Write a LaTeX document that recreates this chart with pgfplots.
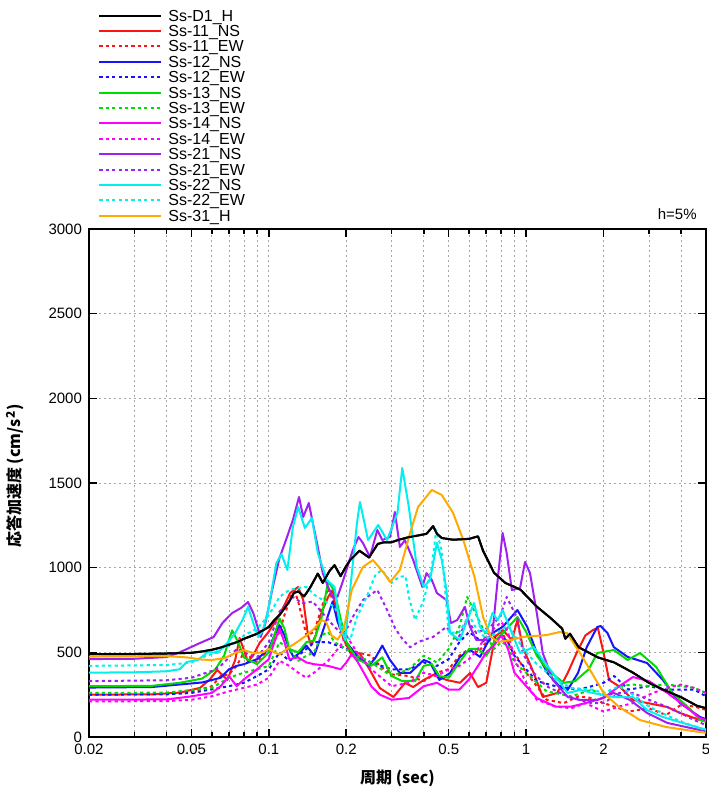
\documentclass[border=0pt]{standalone}
\usepackage{fontspec}
\setmainfont{Liberation Sans}
\newfontfamily\cjk{Noto Sans CJK JP}
\usepackage{pgfplots}
\pgfplotsset{compat=1.18}
\definecolor{cred}{RGB}{255,20,20}
\definecolor{cblue}{RGB}{20,20,255}
\definecolor{cgreen}{RGB}{0,220,0}
\definecolor{cmag}{RGB}{255,0,255}
\definecolor{cpur}{RGB}{160,32,240}
\definecolor{ccyan}{RGB}{0,240,240}
\definecolor{corange}{RGB}{255,170,0}
\begin{document}
\begin{tikzpicture}
\begin{axis}[name=ax,
  scale only axis, width=308.5pt, height=254pt,
  xmode=log, xmin=0.02, xmax=5, ymin=0, ymax=3000,
  xtick={0.02,0.05,0.1,0.2,0.5,1,2,5},
  xticklabels={0.02,0.05,0.1,0.2,0.5,1,2,5},
  minor xtick={0.03,0.04,0.06,0.07,0.08,0.09,0.3,0.4,0.6,0.7,0.8,0.9,3,4},
  ytick={0,500,1000,1500,2000,2500,3000},
  yticklabels={0,500,1000,1500,2000,2500,3000},
  /pgf/number format/assume math mode=true,
  ticklabel style={font=\fontsize{7.5}{8}\selectfont},
  major tick length=4pt, minor tick length=2.5pt,
  every tick/.style={black, line width=0.8pt},
  grid=both,
  major grid style={dash pattern=on 1pt off 1.5pt, gray!70, line width=0.4pt},
  minor grid style={dash pattern=on 1pt off 1.5pt, gray!70, line width=0.4pt},
  axis line style={line width=1pt},
  xlabel={\cjk\bfseries 周期 (sec)},
  xlabel style={at={(axis description cs:0.5,0)}, anchor=center, yshift=-20.5pt, font=\fontsize{8}{9}\selectfont},
  legend style={at={(axis description cs:0,1)}, anchor=south west, xshift=4.5pt, yshift=1.7pt,
     draw=none, fill=none, inner sep=0pt, row sep=0pt,
     font=\fontsize{8}{8}\selectfont,
     nodes={text height=5.8pt, text depth=1.9pt, inner ysep=0pt, inner xsep=3pt}},
  legend cell align=left,
  legend image code/.code={\draw[#1] (0pt,0.8pt) -- (31pt,0.8pt);},
  every axis plot/.append style={line width=1pt, line join=round},
  after end axis/.code={
    \node[anchor=south east, inner sep=0pt, font=\fontsize{7.5}{8}\selectfont] at ([xshift=-4.5pt, yshift=4.5pt]rel axis cs:1,1) {h=5\%};
    \node[anchor=center, inner sep=0pt, font=\fontsize{8}{9}\selectfont, rotate=90] at ([xshift=-37pt, yshift=3.5pt]rel axis cs:0,0.5) {\cjk\bfseries 応答加速度 (cm/s\textsuperscript{2})};
  },
]
% Ss-D1_H
\addplot[black] coordinates {(0.02,490)(0.03,490)(0.04,493)(0.05,497)(0.055,505)(0.06,515)(0.065,528)(0.07,545)(0.075,560)(0.08,580)(0.085,595)(0.09,610)(0.1,650)(0.105,690)(0.11,720)(0.115,760)(0.12,800)(0.125,850)(0.13,860)(0.137,830)(0.14,850)(0.145,885)(0.155,965)(0.162,910)(0.172,980)(0.18,1015)(0.19,950)(0.2,1010)(0.207,1045)(0.225,1100)(0.245,1060)(0.265,1140)(0.28,1150)(0.3,1150)(0.32,1165)(0.35,1180)(0.38,1190)(0.41,1200)(0.435,1245)(0.45,1200)(0.47,1175)(0.52,1165)(0.6,1170)(0.65,1185)(0.68,1100)(0.75,970)(0.83,910)(0.95,870)(1.1,770)(1.25,700)(1.38,640)(1.42,580)(1.48,610)(1.6,530)(1.9,470)(2.2,440)(2.6,380)(3.0,320)(3.4,280)(4.0,235)(4.6,185)(5,170)};
\addlegendentry{Ss-D1\_H}
% Ss-11_NS
\addplot[cred] coordinates {(0.02,250)(0.035,252)(0.045,262)(0.054,290)(0.059,340)(0.063,396)(0.069,337)(0.074,455)(0.077,585)(0.08,514)(0.083,443)(0.087,484)(0.092,555)(0.099,614)(0.107,691)(0.114,768)(0.121,850)(0.13,886)(0.136,809)(0.142,600)(0.146,540)(0.152,600)(0.16,732)(0.17,827)(0.177,868)(0.185,700)(0.195,580)(0.21,480)(0.225,496)(0.247,396)(0.27,289)(0.305,236)(0.338,319)(0.364,295)(0.40,337)(0.435,366)(0.49,337)(0.553,320)(0.605,378)(0.65,295)(0.70,320)(0.757,591)(0.81,632)(0.88,573)(0.925,691)(0.97,531)(1.07,378)(1.16,236)(1.32,260)(1.45,378)(1.59,514)(1.7,600)(1.82,632)(1.9,644)(2.0,496)(2.1,337)(2.32,295)(2.6,219)(2.95,201)(3.54,177)(3.96,142)(4.74,100)(5,95)};
\addlegendentry{Ss-11\_NS}
% Ss-11_EW
\addplot[cred, dash pattern=on 1.6pt off 1.6pt] coordinates {(0.02,250)(0.04,255)(0.05,265)(0.06,300)(0.065,360)(0.07,370)(0.075,420)(0.08,500)(0.085,470)(0.09,440)(0.1,520)(0.11,620)(0.115,720)(0.12,800)(0.125,880)(0.13,800)(0.135,700)(0.14,600)(0.15,620)(0.16,760)(0.17,880)(0.18,780)(0.19,620)(0.2,540)(0.22,500)(0.25,480)(0.27,420)(0.3,370)(0.35,360)(0.4,330)(0.45,380)(0.5,400)(0.55,480)(0.6,520)(0.65,500)(0.7,560)(0.8,620)(0.9,500)(1.0,380)(1.1,300)(1.2,220)(1.4,200)(1.6,240)(1.8,230)(2.0,200)(2.2,180)(2.5,150)(3,170)(3.5,130)(4,190)(4.5,180)(5,160)};
\addlegendentry{Ss-11\_EW}
% Ss-12_NS
\addplot[cblue] coordinates {(0.02,292)(0.035,295)(0.045,310)(0.055,322)(0.065,350)(0.07,400)(0.075,420)(0.08,430)(0.09,460)(0.1,520)(0.105,600)(0.11,660)(0.115,600)(0.12,520)(0.125,470)(0.13,490)(0.14,540)(0.15,480)(0.16,600)(0.17,720)(0.177,800)(0.185,680)(0.2,560)(0.22,480)(0.245,420)(0.26,470)(0.276,540)(0.2955,455)(0.323,378)(0.354,378)(0.40,455)(0.423,440)(0.46,337)(0.506,378)(0.553,473)(0.605,514)(0.662,473)(0.74,614)(0.81,650)(0.925,750)(1.01,650)(1.1,496)(1.21,378)(1.354,295)(1.45,278)(1.59,378)(1.72,531)(1.89,650)(1.95,655)(2.07,614)(2.19,531)(2.48,473)(2.95,437)(3.4,337)(3.96,201)(4.74,118)(5,105)};
\addlegendentry{Ss-12\_NS}
% Ss-12_EW
\addplot[cblue, dash pattern=on 1.6pt off 1.6pt] coordinates {(0.02,250)(0.04,252)(0.05,260)(0.07,300)(0.08,320)(0.09,360)(0.1,400)(0.11,500)(0.12,450)(0.13,480)(0.14,520)(0.15,560)(0.17,560)(0.2,520)(0.22,480)(0.25,440)(0.3,400)(0.35,400)(0.4,440)(0.45,420)(0.5,460)(0.55,560)(0.6,620)(0.65,580)(0.7,560)(0.8,600)(0.85,560)(0.9,480)(1.0,400)(1.1,330)(1.3,300)(1.6,280)(1.8,300)(2.0,320)(2.2,360)(2.5,280)(3,300)(3.5,280)(4.0,280)(4.5,280)(5,240)};
\addlegendentry{Ss-12\_EW}
% Ss-13_NS
\addplot[cgreen] coordinates {(0.02,300)(0.035,302)(0.045,320)(0.055,345)(0.062,400)(0.067,480)(0.072,630)(0.076,560)(0.08,470)(0.09,430)(0.1,500)(0.105,600)(0.11,700)(0.115,640)(0.12,520)(0.13,500)(0.14,560)(0.15,570)(0.16,700)(0.17,920)(0.18,860)(0.19,700)(0.2,560)(0.22,460)(0.25,420)(0.276,470)(0.3,360)(0.33,330)(0.37,330)(0.4,420)(0.43,430)(0.46,360)(0.5,350)(0.55,440)(0.6,520)(0.65,520)(0.7,480)(0.75,560)(0.82,620)(0.925,709)(1.0,620)(1.1,480)(1.21,396)(1.4,320)(1.55,330)(1.75,400)(1.89,496)(2.19,514)(2.48,455)(2.77,496)(3.2,414)(3.7,260)(4.3,170)(4.74,100)(5,90)};
\addlegendentry{Ss-13\_NS}
% Ss-13_EW
\addplot[cgreen, dash pattern=on 1.6pt off 1.6pt] coordinates {(0.02,260)(0.04,262)(0.06,290)(0.07,350)(0.08,380)(0.09,400)(0.1,420)(0.11,560)(0.12,520)(0.13,450)(0.14,480)(0.15,500)(0.16,600)(0.17,620)(0.18,560)(0.2,520)(0.22,480)(0.25,440)(0.3,360)(0.35,400)(0.4,480)(0.45,440)(0.5,520)(0.55,650)(0.59,827)(0.65,700)(0.7,600)(0.75,520)(0.8,560)(0.85,540)(0.9,440)(1.0,380)(1.2,270)(1.5,240)(1.8,280)(2.0,240)(2.3,300)(2.6,310)(3,300)(3.5,310)(4,300)(4.5,290)(5,260)};
\addlegendentry{Ss-13\_EW}
% Ss-14_NS
\addplot[cmag] coordinates {(0.02,220)(0.04,222)(0.05,240)(0.06,260)(0.065,300)(0.07,360)(0.075,300)(0.08,340)(0.09,400)(0.1,460)(0.105,560)(0.11,640)(0.115,560)(0.12,460)(0.13,470)(0.14,440)(0.15,430)(0.17,420)(0.19,400)(0.2,440)(0.21,490)(0.22,450)(0.23,400)(0.25,300)(0.27,250)(0.3,220)(0.35,230)(0.4,300)(0.45,320)(0.5,280)(0.55,280)(0.6,340)(0.65,420)(0.7,500)(0.75,540)(0.8,600)(0.85,520)(0.9,380)(1.0,300)(1.1,230)(1.3,180)(1.5,180)(1.7,200)(2.0,230)(2.3,300)(2.6,354)(3,330)(3.54,260)(4,200)(4.74,112)(5,100)};
\addlegendentry{Ss-14\_NS}
% Ss-14_EW
\addplot[cmag, dash pattern=on 1.6pt off 1.6pt] coordinates {(0.02,210)(0.04,212)(0.05,220)(0.06,240)(0.07,270)(0.08,290)(0.09,310)(0.1,350)(0.11,450)(0.12,420)(0.13,380)(0.14,350)(0.15,380)(0.17,450)(0.19,540)(0.2,600)(0.22,500)(0.25,400)(0.3,300)(0.35,320)(0.4,380)(0.45,360)(0.5,400)(0.55,420)(0.6,460)(0.65,520)(0.7,600)(0.75,640)(0.8,680)(0.85,620)(0.9,460)(1.0,320)(1.1,220)(1.3,180)(1.5,170)(1.7,200)(2.0,150)(2.3,180)(2.6,200)(3,250)(3.5,290)(4,310)(4.5,290)(5,260)};
\addlegendentry{Ss-14\_EW}
% Ss-21_NS
\addplot[cpur] coordinates {(0.02,460)(0.03,462)(0.04,472)(0.045,500)(0.054,555)(0.061,590)(0.066,673)(0.072,732)(0.078,762)(0.083,797)(0.087,732)(0.093,590)(0.097,673)(0.103,868)(0.11,1057)(0.117,1170)(0.124,1282)(0.131,1417)(0.136,1299)(0.143,1382)(0.148,1270)(0.155,1122)(0.162,968)(0.17,886)(0.178,820)(0.185,830)(0.193,910)(0.212,1104)(0.223,1181)(0.232,1146)(0.247,1063)(0.264,1222)(0.276,1163)(0.2955,1181)(0.309,1329)(0.323,1122)(0.338,1163)(0.364,1045)(0.395,886)(0.41,968)(0.43,927)(0.45,850)(0.49,809)(0.51,673)(0.54,691)(0.578,768)(0.605,650)(0.64,573)(0.70,573)(0.74,614)(0.775,927)(0.81,1205)(0.84,1087)(0.88,868)(0.947,880)(0.99,1034)(1.035,968)(1.1,732)(1.16,496)(1.27,337)(1.45,236)(1.62,219)(1.89,219)(2.19,260)(2.53,219)(2.95,142)(3.54,83)(4.74,41)(5,35)};
\addlegendentry{Ss-21\_NS}
% Ss-21_EW
\addplot[cpur, dash pattern=on 1.6pt off 1.6pt] coordinates {(0.02,330)(0.04,335)(0.05,350)(0.06,390)(0.065,420)(0.07,470)(0.075,520)(0.08,500)(0.09,470)(0.1,560)(0.11,740)(0.124,827)(0.135,790)(0.148,800)(0.16,740)(0.18,650)(0.195,600)(0.212,709)(0.232,809)(0.264,868)(0.288,750)(0.31,640)(0.33,580)(0.354,530)(0.38,560)(0.40,573)(0.435,591)(0.49,650)(0.54,573)(0.59,691)(0.64,614)(0.724,650)(0.79,709)(0.84,827)(0.925,700)(0.97,496)(1.07,378)(1.2,300)(1.4,250)(1.6,220)(1.8,200)(2.0,200)(2.3,260)(2.6,260)(3.0,220)(3.5,180)(4.0,140)(4.5,100)(5,70)};
\addlegendentry{Ss-21\_EW}
% Ss-22_NS
\addplot[ccyan] coordinates {(0.02,380)(0.03,382)(0.04,388)(0.045,400)(0.048,443)(0.053,455)(0.058,502)(0.063,496)(0.069,555)(0.074,614)(0.079,691)(0.083,768)(0.087,673)(0.091,590)(0.095,632)(0.1,768)(0.107,1028)(0.112,1080)(0.118,986)(0.124,1240)(0.13,1358)(0.138,1234)(0.147,1293)(0.155,1087)(0.168,927)(0.18,886)(0.189,650)(0.198,573)(0.207,868)(0.22,1264)(0.226,1388)(0.243,1163)(0.266,1252)(0.288,1163)(0.316,1323)(0.33,1589)(0.35,1358)(0.364,1163)(0.376,1004)(0.40,886)(0.423,927)(0.45,1146)(0.47,1045)(0.49,868)(0.506,614)(0.553,573)(0.59,691)(0.627,791)(0.662,650)(0.70,614)(0.74,732)(0.775,690)(0.81,750)(0.88,614)(0.947,496)(1.07,531)(1.16,455)(1.27,378)(1.45,260)(1.62,278)(1.82,260)(2.19,236)(2.6,236)(2.95,159)(3.4,118)(4.74,53)(5,45)};
\addlegendentry{Ss-22\_NS}
% Ss-22_EW
\addplot[ccyan, dash pattern=on 1.6pt off 1.6pt] coordinates {(0.02,420)(0.04,425)(0.05,440)(0.055,470)(0.06,490)(0.065,520)(0.07,540)(0.075,560)(0.08,600)(0.09,640)(0.1,720)(0.11,827)(0.12,868)(0.13,880)(0.14,886)(0.15,840)(0.162,809)(0.18,768)(0.19,690)(0.2,600)(0.207,573)(0.22,709)(0.24,827)(0.26,960)(0.275,986)(0.3,910)(0.32,945)(0.34,950)(0.35,827)(0.37,691)(0.40,809)(0.43,1004)(0.447,1222)(0.47,1100)(0.5,614)(0.55,620)(0.6,720)(0.64,640)(0.7,580)(0.78,620)(0.85,660)(0.9,600)(1.0,500)(1.1,430)(1.3,340)(1.5,290)(1.8,280)(2.0,260)(2.3,300)(2.6,250)(3.0,180)(3.5,130)(4.0,90)(5,40)};
\addlegendentry{Ss-22\_EW}
% Ss-31_H
\addplot[corange] coordinates {(0.02,475)(0.04,478)(0.048,470)(0.055,457)(0.06,455)(0.067,465)(0.075,500)(0.08,512)(0.088,495)(0.095,500)(0.1,520)(0.105,500)(0.11,488)(0.12,530)(0.13,565)(0.14,600)(0.15,640)(0.16,690)(0.167,680)(0.175,600)(0.185,575)(0.195,630)(0.21,868)(0.232,1004)(0.254,1045)(0.28,968)(0.296,915)(0.323,986)(0.354,1205)(0.38,1358)(0.40,1400)(0.43,1459)(0.47,1429)(0.52,1323)(0.57,1163)(0.63,945)(0.68,709)(0.73,591)(0.78,561)(0.87,573)(0.97,591)(1.2,602)(1.35,620)(1.44,614)(1.62,496)(1.8,378)(2.0,260)(2.3,177)(2.77,100)(3.5,59)(4.7,30)(5,25)};
\addlegendentry{Ss-31\_H}
% black again on top
\addplot[black, forget plot] coordinates {(0.02,490)(0.03,490)(0.04,493)(0.05,497)(0.055,505)(0.06,515)(0.065,528)(0.07,545)(0.075,560)(0.08,580)(0.085,595)(0.09,610)(0.1,650)(0.105,690)(0.11,720)(0.115,760)(0.12,800)(0.125,850)(0.13,860)(0.137,830)(0.14,850)(0.145,885)(0.155,965)(0.162,910)(0.172,980)(0.18,1015)(0.19,950)(0.2,1010)(0.207,1045)(0.225,1100)(0.245,1060)(0.265,1140)(0.28,1150)(0.3,1150)(0.32,1165)(0.35,1180)(0.38,1190)(0.41,1200)(0.435,1245)(0.45,1200)(0.47,1175)(0.52,1165)(0.6,1170)(0.65,1185)(0.68,1100)(0.75,970)(0.83,910)(0.95,870)(1.1,770)(1.25,700)(1.38,640)(1.42,580)(1.48,610)(1.6,530)(1.9,470)(2.2,440)(2.6,380)(3.0,320)(3.4,280)(4.0,235)(4.6,185)(5,170)};
\end{axis}
\pgfresetboundingbox
\path ([xshift=-44.5pt,yshift=-29.5pt]ax.south west) rectangle ([xshift=1pt,yshift=114.5pt]ax.north east);
\end{tikzpicture}
\end{document}
